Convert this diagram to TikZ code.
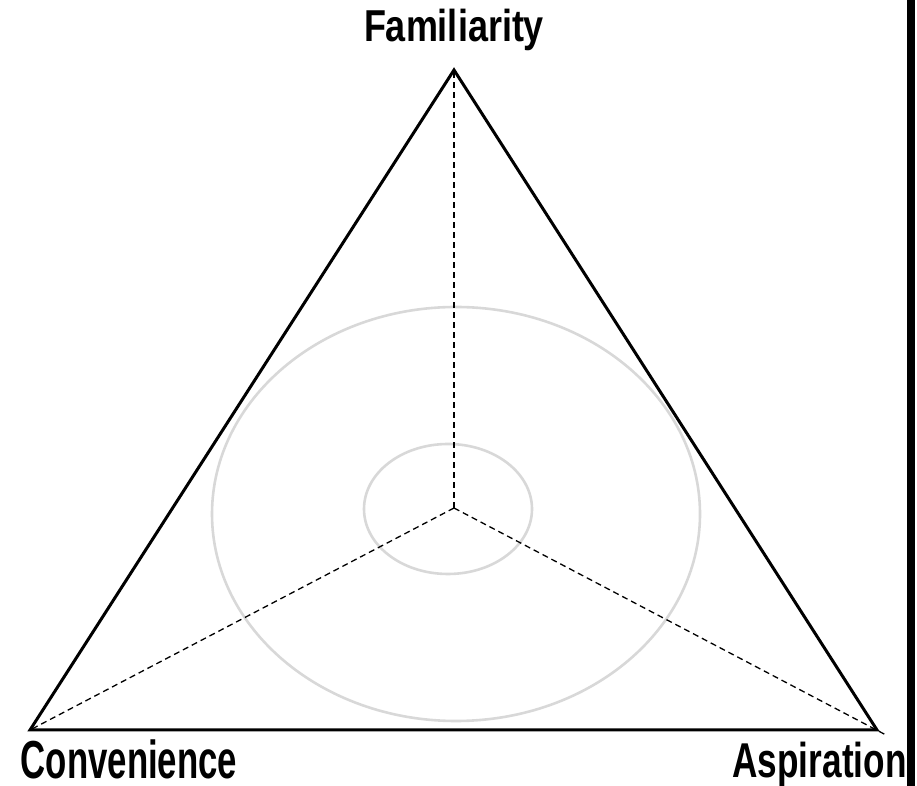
\documentclass[tikz,border=0pt]{standalone}
\usepackage{fontspec}
\usepackage{graphicx}
\usepackage{tikz}
\usetikzlibrary{positioning}
\newfontfamily\tagfont{Liberation Sans}
\definecolor{ringgray}{RGB}{216,216,216}

\begin{document}
\begin{tikzpicture}[x=1pt,y=1pt,
    side/.style={line width=3pt,line join=miter},
    spoke/.style={line width=1.3pt,dash pattern=on 6pt off 4pt},
    ring/.style={ringgray,line width=2.6pt},
    tag/.style={inner sep=0pt,anchor=base,font=\tagfont\bfseries}]
  \useasboundingbox (0,0) rectangle (917,786);

  \coordinate (fam) at (454,716);
  \coordinate (conv) at (30,56);
  \coordinate (asp) at (877,56);
  \coordinate (mid) at (454,278);
  \coordinate (aspend) at (886,51);

  \draw[ring] (456,272) ellipse (244 and 207);
  \draw[ring] (448,277) ellipse (84 and 65);

  \draw[side] (fam) -- (conv) -- (asp) -- cycle;
  \draw[spoke] (mid) -- (fam);
  \draw[spoke] (mid) -- (conv);
  \draw[spoke] (mid) -- (aspend);

  \node[tag] (famlbl) at (454,744) {\fontsize{44.7}{50}\selectfont\scalebox{0.805}[1]{Familiarity}};
  \node[tag] (convlbl) at (129,8) {\fontsize{53.5}{60}\selectfont\scalebox{0.65}[1]{Convenience}};
  \node[tag] (asplbl) at (819.5,9) {\fontsize{48.9}{55}\selectfont\scalebox{0.72}[1]{Aspiration}};

  % dark edge on the right
  \fill[black] (907,0) rectangle (915,786);
\end{tikzpicture}
\end{document}
